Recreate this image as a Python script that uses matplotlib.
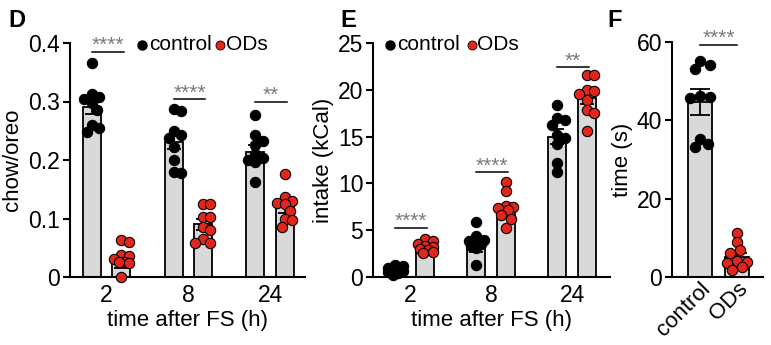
import numpy as np
import matplotlib
matplotlib.use('Agg')
import matplotlib.pyplot as plt
from matplotlib.lines import Line2D

plt.rcParams['font.family'] = ['Liberation Sans', 'DejaVu Sans']

# ---------------- data ----------------
timepoints = ['2', '8', '24']

# Panel D: chow/oreo ratio
d_ctrl = [[0.365, 0.312, 0.308, 0.305, 0.298, 0.285, 0.260, 0.255, 0.248],
          [0.288, 0.283, 0.250, 0.243, 0.237, 0.223, 0.200, 0.180, 0.178],
          [0.277, 0.243, 0.232, 0.225, 0.210, 0.203, 0.200, 0.197, 0.163]]
d_ods = [[0.063, 0.060, 0.038, 0.036, 0.030, 0.026, 0.026, 0.024, 0.000],
         [0.125, 0.125, 0.103, 0.103, 0.085, 0.080, 0.065, 0.058, 0.058],
         [0.176, 0.137, 0.130, 0.126, 0.124, 0.112, 0.100, 0.097, 0.086]]
d_ctrl_mean = [0.291, 0.231, 0.214]
d_ctrl_sem = [0.012, 0.013, 0.011]
d_ods_mean = [0.022, 0.090, 0.119]
d_ods_sem = [0.007, 0.009, 0.009]
d_sig = ['****', '****', '**']
d_sig_y = [0.385, 0.304, 0.300]

# Panel E: intake (kCal)
e_ctrl = [[1.3, 1.2, 1.0, 0.9, 0.8, 0.6, 0.5, 0.4, 0.2],
          [5.9, 4.4, 4.0, 3.8, 3.6, 3.5, 3.3, 3.1, 1.3],
          [18.4, 17.0, 16.8, 16.2, 15.2, 14.8, 14.2, 12.2, 11.2]]
e_ods = [[4.1, 3.8, 3.5, 3.3, 3.2, 3.0, 2.9, 2.7, 2.6],
         [10.2, 9.2, 7.6, 7.5, 7.4, 7.2, 6.6, 6.2, 5.2],
         [21.6, 21.6, 20.0, 19.9, 19.6, 18.9, 17.8, 17.5, 15.6]]
e_ctrl_mean = [0.8, 3.1, 15.0]
e_ctrl_sem = [0.12, 0.4, 0.8]
e_ods_mean = [3.2, 7.2, 19.1]
e_ods_sem = [0.15, 0.5, 0.6]
e_sig = ['****', '****', '**']
e_sig_y = [5.27, 11.2, 22.4]

# Panel F: time (s)
f_groups = ['control', 'ODs']
f_ctrl = [55.1, 54.2, 53.1, 46.3, 46.0, 45.8, 35.2, 34.0, 33.2]
f_ods = [11.2, 9.0, 6.9, 6.1, 4.2, 3.9, 3.6, 2.6, 1.8]
f_mean = [44.6, 5.2]
f_sem = [3.3, 1.0]
f_sig = '****'
f_sig_y = 59.3

# ---------------- style ----------------
RED = '#e3261b'
BAR = '#d9d9d9'
GRAY = '#7a7a7a'
TICK_FS = 16.5
LAB_FS = 16
W, H = 771, 345

fig = plt.figure(figsize=(W / 100, H / 100), dpi=100)


def axes_px(left, right, top, bottom):
    return fig.add_axes([left / W, 1 - bottom / H, (right - left) / W, (bottom - top) / H])


def style(ax):
    for s in ['top', 'right']:
        ax.spines[s].set_visible(False)
    for s in ['left', 'bottom']:
        ax.spines[s].set_linewidth(1.5)
    ax.tick_params(axis='y', direction='out', length=5, width=1.5, pad=2, labelsize=TICK_FS)
    ax.tick_params(axis='x', length=0, pad=5, labelsize=TICK_FS)


def swarm(ax, xc, vals, color, diam=10.0, maxoff=9.0):
    """simple deterministic beeswarm in pixel space"""
    pts = []
    order = np.argsort(vals)[::-1]
    x0, _ = ax.transData.transform((xc, 0))
    res = []
    for i in order:
        _, yp = ax.transData.transform((xc, vals[i]))
        best, bestd = 0.0, -1
        cands = [0.0]
        for k in np.arange(2.5, maxoff + 0.1, 2.5):
            cands += [k, -k]
        chosen = None
        for c in cands:
            dmin = min([np.hypot(c - px, yp - py) for px, py in pts] or [1e9])
            if dmin >= 0.85 * diam:
                chosen = c
                break
            if dmin > bestd:
                bestd, best = dmin, c
        if chosen is None:
            chosen = best
        pts.append((chosen, yp))
        xd, _ = ax.transData.inverted().transform((x0 + chosen, yp))
        res.append((xd, vals[i]))
    xs = [r[0] for r in res]
    ys = [r[1] for r in res]
    ax.scatter(xs, ys, s=55, c=color, edgecolors='black', linewidths=0.8,
               zorder=4, clip_on=False)


def sigbar(ax, x1, x2, y, txt):
    ax.plot([x1, x2], [y, y], color='black', lw=1.1, clip_on=False, zorder=5)
    ax.annotate(txt, xy=((x1 + x2) / 2, y), xytext=(0, 0.5), textcoords='offset points',
                ha='center', va='baseline', fontsize=15, color=GRAY, annotation_clip=False)


def grouped(ax, ctrl, ods, cm, cs, om, osem, sig, sig_y, d, bw):
    pos = np.arange(len(timepoints))
    ax.bar(pos - d, cm, width=bw, color=BAR, edgecolor='black', linewidth=1.3, zorder=1)
    ax.bar(pos + d, om, width=bw, color=BAR, edgecolor='black', linewidth=1.3, zorder=1)
    ax.errorbar(pos - d, cm, yerr=cs, fmt='none', ecolor='black', elinewidth=1.3,
                capsize=5, capthick=1.3, zorder=3)
    ax.errorbar(pos + d, om, yerr=osem, fmt='none', ecolor='black', elinewidth=1.3,
                capsize=5, capthick=1.3, zorder=3)
    for i in range(len(pos)):
        swarm(ax, pos[i] - d, ctrl[i], 'black')
        swarm(ax, pos[i] + d, ods[i], RED)
        sigbar(ax, pos[i] - d, pos[i] + d + 0.03, sig_y[i], sig[i])
    ax.set_xticks(pos)
    ax.set_xticklabels(timepoints)
    ax.set_xlabel('time after FS (h)', fontsize=LAB_FS, labelpad=2)


# Panel D
axD = axes_px(70, 305, 43, 277)
style(axD)
axD.set_xlim(-0.446, 2.428)
axD.set_ylim(0, 0.4)
axD.set_yticks([0, 0.1, 0.2, 0.3, 0.4])
axD.set_yticklabels(['0', '0.1', '0.2', '0.3', '0.4'])
grouped(axD, d_ctrl, d_ods, d_ctrl_mean, d_ctrl_sem, d_ods_mean, d_ods_sem,
        d_sig, d_sig_y, 0.18, 0.22)
axD.set_ylabel('chow/oreo', fontsize=LAB_FS, labelpad=4)

# Panel E
axE = axes_px(373, 610, 43, 277)
style(axE)
axE.set_xlim(-0.457, 2.469)
axE.set_ylim(0, 25)
axE.set_yticks([0, 5, 10, 15, 20, 25])
grouped(axE, e_ctrl, e_ods, e_ctrl_mean, e_ctrl_sem, e_ods_mean, e_ods_sem,
        e_sig, e_sig_y, 0.185, 0.23)
axE.set_ylabel('intake (kCal)', fontsize=LAB_FS, labelpad=3)

# Panel F
axF = axes_px(672, 763, 42, 277)
style(axF)
axF.tick_params(axis='x', pad=1)
axF.set_xlim(-0.757, 1.70)
axF.set_ylim(0, 60)
axF.set_yticks([0, 20, 40, 60])
fpos = np.arange(2)
axF.bar(fpos, f_mean, width=0.65, color=BAR, edgecolor='black', linewidth=1.3, zorder=1)
axF.errorbar(fpos, f_mean, yerr=f_sem, fmt='none', ecolor='black', elinewidth=1.3,
             capsize=7, capthick=1.3, zorder=3)
swarm(axF, 0, f_ctrl, 'black', maxoff=11)
swarm(axF, 1, f_ods, RED, maxoff=11)
sigbar(axF, 0, 1, f_sig_y, f_sig)
axF.set_xticks(fpos)
axF.set_xticklabels(f_groups, rotation=45, ha='right', rotation_mode='anchor',
                    fontsize=16)
for lbl in axF.get_xticklabels():
    lbl.set_x(lbl.get_position()[0])
axF.set_ylabel('time (s)', fontsize=LAB_FS, labelpad=3)

# legends (figure pixel coordinates)
def legend_at(xb, xt1, xr, xt2, ybase, ydot):
    fig.add_artist(Line2D([xb / W], [1 - ydot / H], transform=fig.transFigure, marker='o',
                          markersize=6.5, color='black', markeredgecolor='black', linestyle='none'))
    fig.text(xt1 / W, 1 - ybase / H, 'control', fontsize=15, ha='left', va='baseline')
    fig.add_artist(Line2D([xr / W], [1 - ydot / H], transform=fig.transFigure, marker='o',
                          markersize=6.5, color=RED, markeredgecolor='black', markeredgewidth=0.6,
                          linestyle='none'))
    fig.text(xt2 / W, 1 - ybase / H, 'ODs', fontsize=15, ha='left', va='baseline')

legend_at(141.7, 149, 220, 226, 50, 45)
legend_at(390, 397, 472, 477, 50, 45)

# panel letters
for x, lab in [(8, 'D'), (340, 'E'), (607, 'F')]:
    fig.text(x / W, 1 - 27 / H, lab, fontsize=17, fontweight='bold', ha='left', va='baseline')

fig.savefig('out.png', dpi=100)
